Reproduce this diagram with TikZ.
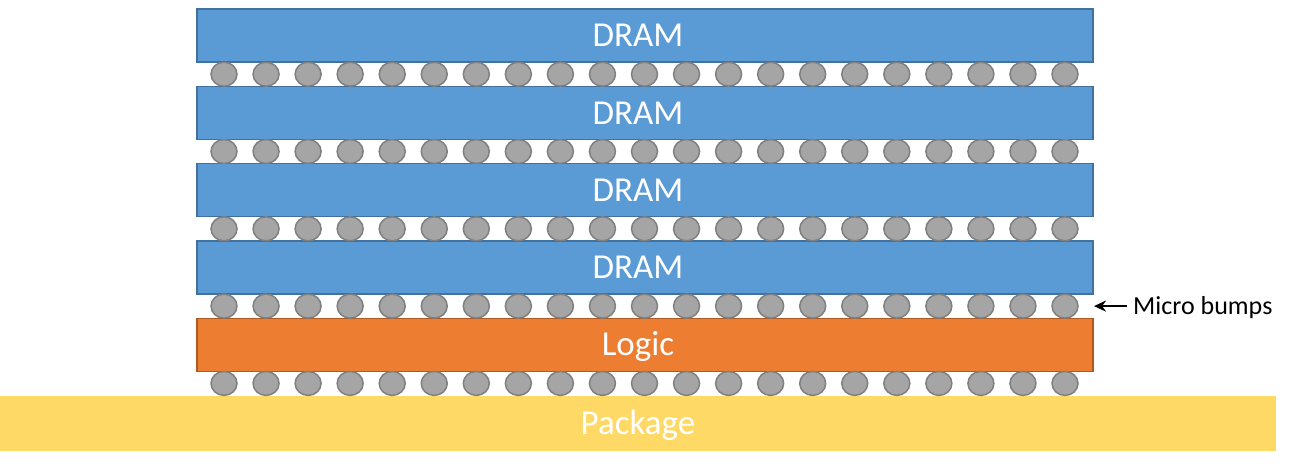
\documentclass[tikz,border=0pt]{standalone}
\usepackage{fontspec}
\setmainfont{Carlito}
\usepackage{tikz}
\usetikzlibrary{arrows.meta, shapes.geometric}
\definecolor{dramblue}{HTML}{5B9BD5}
\definecolor{dramedge}{HTML}{41719C}
\definecolor{logicorange}{HTML}{ED7D31}
\definecolor{logicedge}{HTML}{AE5A21}
\definecolor{pkgyellow}{HTML}{FFD966}
\definecolor{bumpgray}{HTML}{A5A5A5}
\definecolor{bumpedge}{HTML}{7F7F7F}

\begin{document}
\begin{tikzpicture}[x=1pt, y=-1pt,
  die/.style={draw, line width=1.2pt, minimum width=896pt, minimum height=53pt, inner sep=0pt},
  dielabel/.style={text=white, font=\fontsize{35}{42}\selectfont, text height=22.5pt,
                   text depth=0pt, inner sep=0pt, xshift=-7pt},
  bump/.style={ellipse, draw=bumpedge, fill=bumpgray, line width=1.5pt,
               minimum width=26pt, minimum height=24pt, inner sep=0pt},
]
\useasboundingbox (0,0) rectangle (1303,468);

% Package at the bottom
\node[fill=pkgyellow, minimum width=1276pt, minimum height=55pt, inner sep=0pt,
      label={[dielabel, xshift=7pt]center:Package}]
     (package) at (638,423.5) {};

% DRAM stack and logic die
\foreach \i/\y in {1/35.5, 2/112.8, 3/190.1, 4/267.4}
  \node[die, fill=dramblue, draw=dramedge, label={[dielabel]center:DRAM}] (dram\i) at (645,\y) {};
\node[die, fill=logicorange, draw=logicedge, label={[dielabel]center:Logic}]
     (logic) at (645,344.7) {};

% Micro bumps between the dies
\foreach \r/\y in {1/74.2, 2/151.5, 3/228.8, 4/306.1, 5/383.4}
  \foreach \k in {0,...,20}
    \node[bump] (b\r-\k) at (224+42.05*\k,\y) {};

% Callout
\coordinate (tip) at (1094,306.1);
\node[anchor=west, inner xsep=6pt, inner ysep=0pt, font=\fontsize{26}{31}\selectfont,
      text height=16.5pt, text depth=0pt]
     (micro) at (1127,306.1) {Micro bumps};
\draw[-{Stealth[length=12pt, width=11pt]}, line width=2.5pt] (micro.west) -- (tip);
\end{tikzpicture}
\end{document}
